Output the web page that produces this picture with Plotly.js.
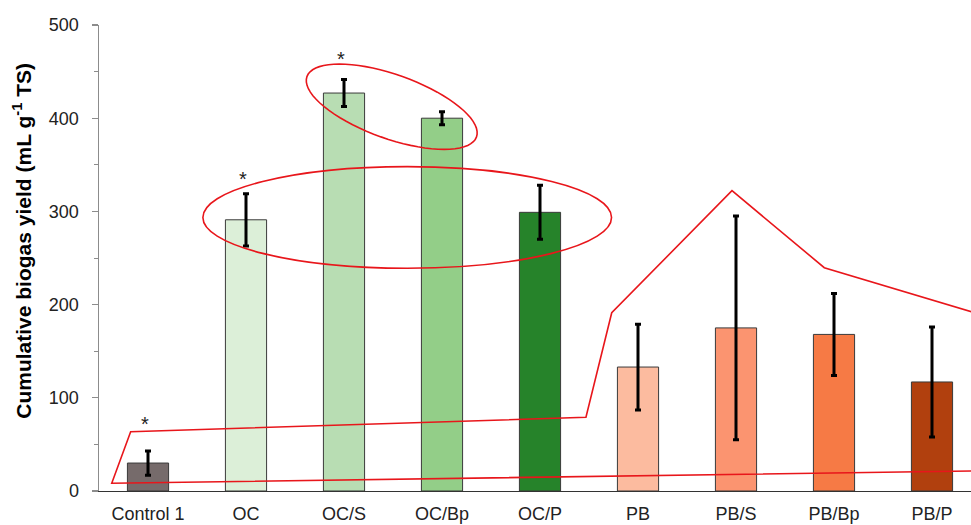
<!DOCTYPE html>
<html>
<head>
<meta charset="utf-8">
<script src="https://cdn.plot.ly/plotly-3.0.1.min.js"></script>
<style>html,body{margin:0;padding:0;background:#fff;}#chart{width:971px;height:525px;}</style>
</head>
<body>
<div id="chart"></div>
<script>
// ---- data ----
const categories = ["Control 1","OC","OC/S","OC/Bp","OC/P","PB","PB/S","PB/Bp","PB/P"];
const yieldValues = [30, 291, 427, 400, 299, 133, 175, 168, 117];
const errorValues = [13, 28, 14.5, 7, 29, 46, 120, 44, 59];
const barColors = ["#766b6b","#dcefd8","#b8ddb3","#93ce88","#26832a","#fcbb9f","#fb9470","#f67a45","#b1400e"];
const starCategories = [0, 1, 2];           // bars marked with an asterisk (index)
const starValues = [72, 335, 464];          // height of the asterisk
const yTicks = [0, 100, 200, 300, 400, 500];
const yTitle = "<b>Cumulative biogas yield (mL g<sup>-1</sup> TS)</b>";

// annotation outlines (data units: x = category index, y = yield)
const ellipseBig = {x0: 0.56, x1: 4.73, y0: 239, y1: 348};
const ellipseTilt = {cx: 2.487, cy: 412.3, a: 90, b: 32, angleDeg: 19.6}; // a,b in screen px
const polyX = [-0.370, -0.177, 4.469, 4.732, 5.959, 6.901, 9.0, 9.0];
const polyY = [8.3, 63.6, 79.1, 191.3, 322.2, 239.6, 173.4, 22.3];

// ---- build ----
const kx = 98, ky = 0.932; // screen px per data unit (for tilted ellipse shape)
function tiltedEllipsePath(e){
  const th = e.angleDeg*Math.PI/180; let p = "";
  for(let i=0;i<=72;i++){
    const t = i/72*2*Math.PI;
    const dxp = e.a*Math.cos(th)*Math.cos(t) - e.b*Math.sin(th)*Math.sin(t);
    const dyp = e.a*Math.sin(th)*Math.cos(t) + e.b*Math.cos(th)*Math.sin(t);
    const x = e.cx + dxp/kx, y = e.cy - dyp/ky;
    p += (i===0?"M":"L") + x.toFixed(4) + "," + y.toFixed(3);
  }
  return p + "Z";
}
let polyPath = "";
polyX.forEach((x,i)=>{ polyPath += (i===0?"M":"L") + x + "," + polyY[i]; });
polyPath += "Z";

const xIdx = categories.map((c,i)=>i);
const trace = {
  type: "bar", x: xIdx, y: yieldValues, width: 0.42,
  marker: {color: barColors, line: {color: "#3a3a3a", width: 1}},
  error_y: {type: "data", array: errorValues, visible: true, color: "#000", thickness: 3, width: 3},
  hoverinfo: "skip"
};

const red = "#e8161b";
const annotations = starCategories.map((c,i)=>({
  x: c - 0.03, y: starValues[i], xref: "x", yref: "y", text: "*", showarrow: false,
  font: {size: 20, color: "#222"}
}));
annotations.push({
  xref: "paper", yref: "paper", x: -0.0877, y: 0.536, xanchor: "center", yanchor: "middle",
  text: yTitle, textangle: -90, showarrow: false, font: {size: 21, color: "#000"}
});

const layout = {
  width: 971, height: 525,
  margin: {l: 99, r: 0, t: 25, b: 34},
  paper_bgcolor: "#fff", plot_bgcolor: "#fff",
  showlegend: false,
  font: {family: "Liberation Sans, Arial, sans-serif", color: "#222"},
  xaxis: {
    range: [-0.5, 8.398], tickmode: "array", tickvals: xIdx, ticktext: categories,
    showgrid: false, zeroline: false, showline: true, linecolor: "#333", linewidth: 1.3,
    ticks: "", tickfont: {size: 18, color: "#222"}, ticklabelstandoff: 6, fixedrange: true
  },
  yaxis: {
    range: [0, 500], tickmode: "array", tickvals: yTicks,
    showgrid: false, zeroline: false, showline: true, linecolor: "#8c8c8c", linewidth: 1.5,
    ticks: "outside", ticklen: 6, tickcolor: "#8c8c8c", tickwidth: 1.2,
    minor: {dtick: 50, ticks: "outside", ticklen: 4, tickcolor: "#8c8c8c", tickwidth: 1},
    tickfont: {size: 18, color: "#222"}, ticklabelstandoff: 9
  },
  shapes: [
    {type: "circle", xref: "x", yref: "y", x0: ellipseBig.x0, x1: ellipseBig.x1, y0: ellipseBig.y0, y1: ellipseBig.y1,
     line: {color: red, width: 1.6}, layer: "above"},
    {type: "path", xref: "x", yref: "y", path: tiltedEllipsePath(ellipseTilt), line: {color: red, width: 1.6}, layer: "above"},
    {type: "path", xref: "x", yref: "y", path: polyPath, line: {color: red, width: 1.6}, layer: "above"}
  ],
  annotations: annotations
};

Plotly.newPlot("chart", [trace], layout, {staticPlot: true, displayModeBar: false});
</script>
</body>
</html>
